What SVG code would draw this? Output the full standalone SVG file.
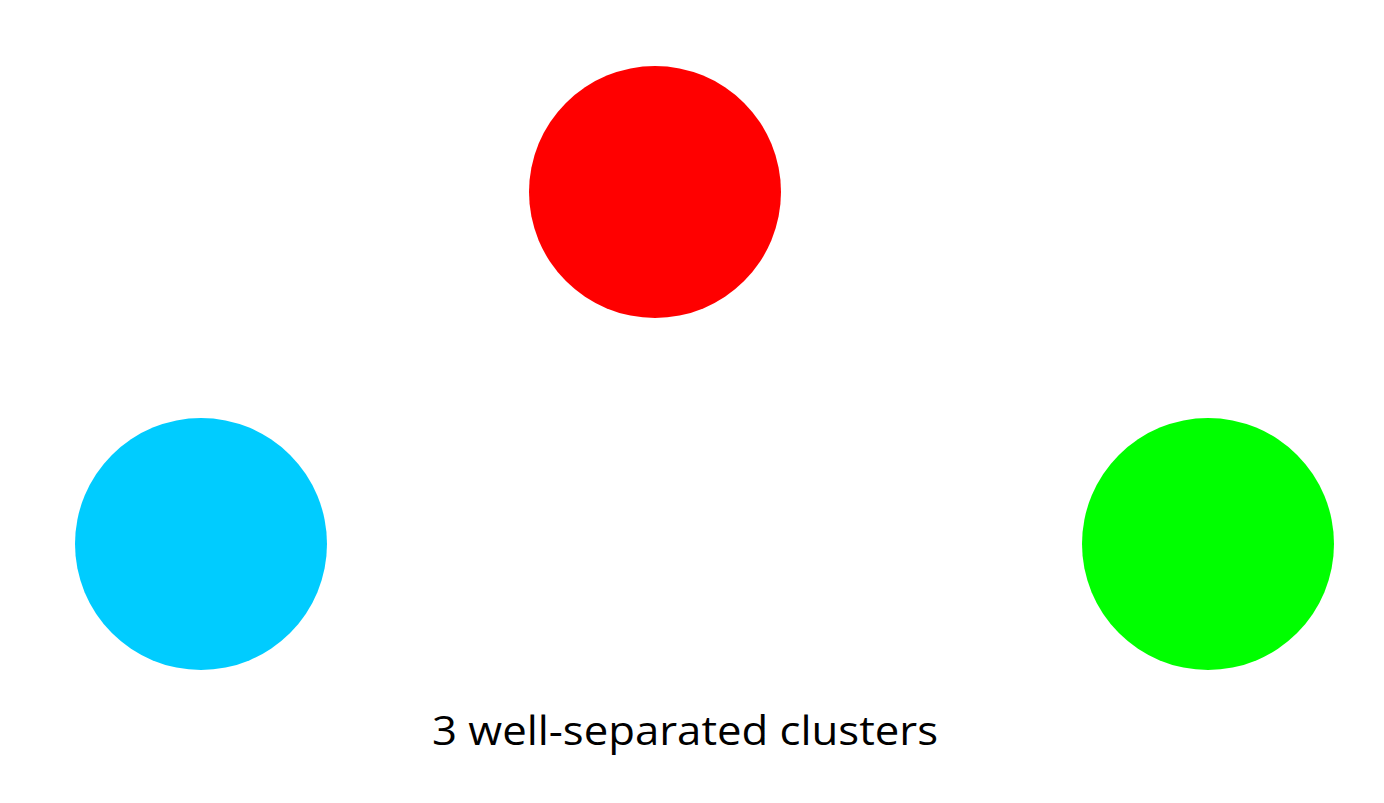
<svg xmlns="http://www.w3.org/2000/svg" width="1384" height="803" viewBox="0 0 1384 803">
<style>
.lbl{font-family:"Open Sans","Liberation Sans",sans-serif;font-size:40px;fill:#000;}
</style>
<rect width="1384" height="803" fill="#fff"/>
<g id="cluster-red"><circle cx="655" cy="192" r="126" fill="#FF0000"/></g>
<g id="cluster-cyan"><circle cx="201" cy="544" r="126" fill="#00CCFF"/></g>
<g id="cluster-green"><circle cx="1208" cy="544" r="126" fill="#00FF00"/></g>
<g id="connectors"></g>
<text class="lbl" x="685" y="745" text-anchor="middle" textLength="506" lengthAdjust="spacingAndGlyphs">3 well-separated clusters</text>
</svg>
